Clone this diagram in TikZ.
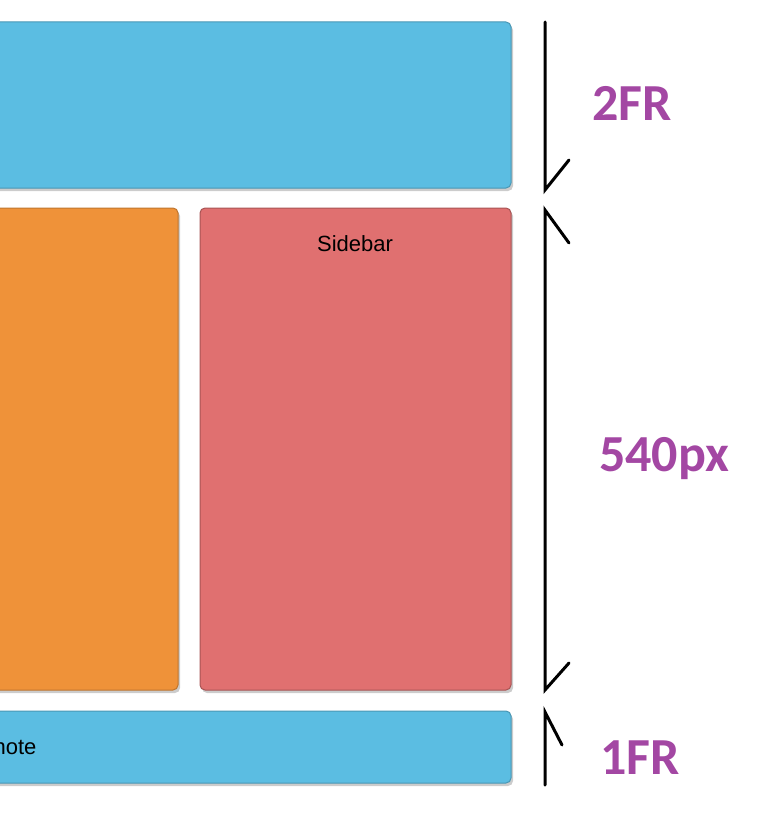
\documentclass[tikz,border=0pt]{standalone}
\usepackage{fontspec}
\setmainfont{Liberation Sans}
\newfontfamily\lblfont{Carlito}
\definecolor{cblue}{HTML}{5BBDE2}
\definecolor{corange}{HTML}{EF9239}
\definecolor{cred}{HTML}{E07070}
\definecolor{cpurple}{HTML}{A347A3}
\begin{document}
\begin{tikzpicture}[x=1pt,y=-1pt,
  boxa/.style={rounded corners=5pt,line width=1pt},
  lbl/.style={text=cpurple,font=\lblfont\bfseries\fontsize{52}{52}\selectfont},
  dim/.style={line width=3pt,black,line cap=round}]
\useasboundingbox (0,0) rectangle (768,813);
\begin{scope}
\clip (0,0) rectangle (768,813);
\fill[gray!40,rounded corners=5pt] (-8,25) rectangle (513,191);
\fill[gray!40,rounded corners=5pt] (-8,211) rectangle (180,693);
\fill[gray!40,rounded corners=5pt] (202,211) rectangle (513,693);
\fill[gray!40,rounded corners=5pt] (-8,714) rectangle (513,786);
\filldraw[boxa,fill=cblue,draw=cblue!80!black] (-10,22) rectangle (511,188);
\filldraw[boxa,fill=corange,draw=corange!80!black] (-10,208) rectangle (178,690);
\filldraw[boxa,fill=cred,draw=cred!75!black] (200,208) rectangle (511,690);
\filldraw[boxa,fill=cblue,draw=cblue!80!black] (-10,711) rectangle (511,783);
\node[anchor=east,font=\fontsize{22}{22}\selectfont] (ft) at (40,747) {Footnote};
\end{scope}
\node[font=\fontsize{22}{22}\selectfont] (sb) at (355,244) {Sidebar};
\coordinate (a1) at (545,22); \coordinate (a2) at (545,190);
\coordinate (b1) at (545,210); \coordinate (b2) at (545,690);
\coordinate (c1) at (545,712); \coordinate (c2) at (545,785);
\draw[dim] (a1) -- (a2) -- (569,160);
\draw[dim] (569,243) -- (b1) -- (b2) -- (569,663);
\draw[dim] (562,745) -- (c1) -- (c2);
\node[lbl] (l1) at (632,103) {2FR};
\node[lbl] (l2) at (664,459) {540px};
\node[lbl] (l3) at (640,758) {1FR};
\end{tikzpicture}
\end{document}
